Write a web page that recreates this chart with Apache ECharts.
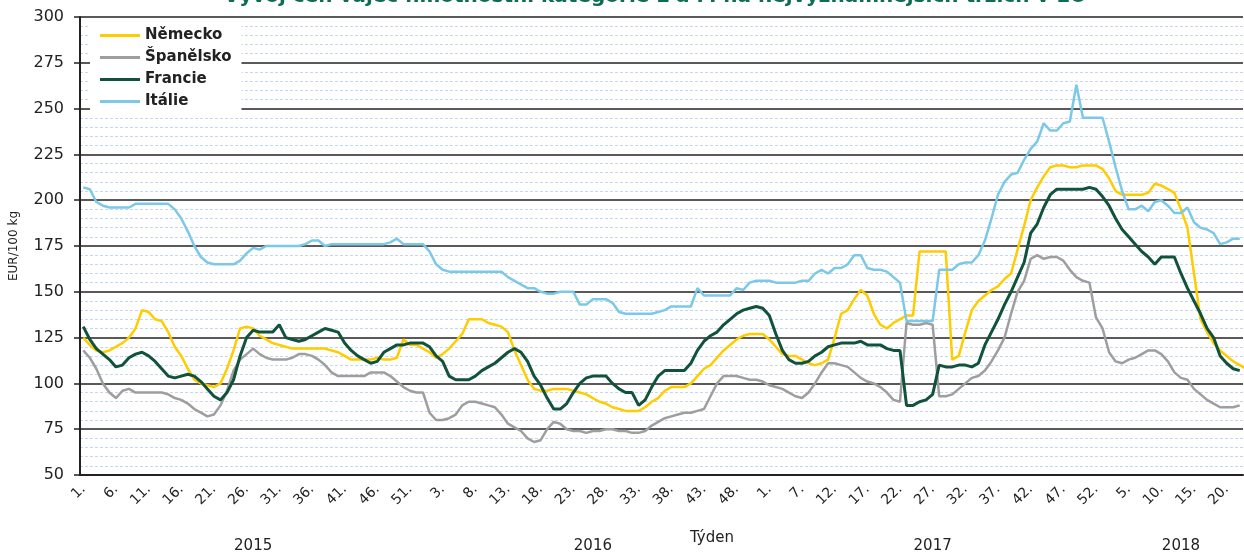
<!DOCTYPE html>
<html><head><meta charset="utf-8">
<script src="https://cdn.jsdelivr.net/npm/echarts@6/dist/echarts.min.js"></script>
<style>html,body{margin:0;padding:0;background:#fff}#c{width:1244px;height:559px}</style>
</head><body><div id="c"></div>
<script>
// week numbers of each year (2017 data skips one week)
const weeks2015 = [1,2,3,4,5,6,7,8,9,10,11,12,13,14,15,16,17,18,19,20,21,22,23,24,25,26,27,28,29,30,31,32,33,34,35,36,37,38,39,40,41,42,43,44,45,46,47,48,49,50,51,52,53];
const weeks2016 = [1,2,3,4,5,6,7,8,9,10,11,12,13,14,15,16,17,18,19,20,21,22,23,24,25,26,27,28,29,30,31,32,33,34,35,36,37,38,39,40,41,42,43,44,45,46,47,48,49,50,51,52];
const weeks2017 = [1,3,4,5,6,7,8,9,10,11,12,13,14,15,16,17,18,19,20,21,22,23,24,25,26,27,28,29,30,31,32,33,34,35,36,37,38,39,40,41,42,43,44,45,46,47,48,49,50,51,52];
const weeks2018 = [1,2,3,4,5,6,7,8,9,10,11,12,13,14,15,16,17,18,19,20,21,22];
const years = ['2015','2016','2017','2018'];
const seriesNames = ['Německo','Španělsko','Francie','Itálie'];
const titleText = 'Vývoj cen vajec hmotnostní kategorie L a M na nejvýznamnějších trzích v EU';

const nemecko = [125,121,118,117,118,120,122,125,130,140,139,135,134,128,120,115,108,102,100,99,98,100,108,118,130,131,130,126,124,122,121,120,119,119,119,119,119,119,118,117,115,113,113,113,113,114,113,113,114,124,121,121,119,
117,114,116,119,123,127,135,135,135,133,132,131,128,118,110,102,97,96,96,97,97,97,96,95,94,92,90,89,87,86,85,85,85,87,90,92,96,98,98,98,100,104,108,110,114,118,121,124,126,127,127,127,
124,120,116,115,115,113,111,110,111,113,125,138,140,146,151,148,138,132,130,133,135,137,137,172,172,172,172,172,113,115,128,140,145,148,151,153,157,160,173,186,200,207,213,218,219,219,218,218,219,219,219,217,212,
205,203,203,203,203,204,209,208,206,204,195,185,160,135,128,122,118,115,112,110,108,107];
const spanelsko = [118,114,108,100,95,92,96,97,95,95,95,95,95,94,92,91,89,86,84,82,83,88,96,107,113,116,119,116,114,113,113,113,114,116,116,115,113,110,106,104,104,104,104,104,106,106,106,104,101,98,96,95,95,
84,80,80,81,83,88,90,90,89,88,87,83,78,76,74,70,68,69,75,79,78,75,74,74,73,74,74,75,75,74,74,73,73,74,77,79,81,82,83,84,84,85,86,93,100,104,104,104,103,102,102,101,
99,98,97,95,93,92,95,100,106,111,111,110,109,106,103,101,100,98,95,91,90,133,132,132,133,132,93,93,94,97,100,103,104,107,112,118,125,138,150,156,168,170,168,169,169,167,162,158,156,155,136,
130,117,112,111,113,114,116,118,118,116,112,106,103,102,97,94,91,89,87,87,87,88];
const francie = [131,124,119,116,113,109,110,114,116,117,115,112,108,104,103,104,105,104,101,97,93,91,95,102,115,125,129,128,128,128,132,125,124,123,124,126,128,130,129,128,122,118,115,113,111,112,117,119,121,121,122,122,122,
120,115,112,104,102,102,102,104,107,109,111,114,117,119,117,112,104,99,92,86,86,89,95,100,103,104,104,104,100,97,95,95,88,91,98,104,107,107,107,107,111,118,123,126,128,132,135,138,140,141,142,141,
137,127,118,113,111,111,112,115,117,120,121,122,122,122,123,121,121,121,119,118,118,88,88,90,91,94,110,109,109,110,110,109,111,121,128,135,143,150,158,166,182,187,196,203,206,206,206,206,206,207,206,
202,197,190,184,180,176,172,169,165,169,169,169,160,152,145,138,130,125,115,111,108,107];
const italie = [207,206,199,197,196,196,196,196,198,198,198,198,198,198,195,190,183,175,169,166,165,165,165,165,167,171,174,173,175,175,175,175,175,175,176,178,178,175,176,176,176,176,176,176,176,176,176,177,179,176,176,176,176,
172,165,162,161,161,161,161,161,161,161,161,161,158,156,154,152,152,150,149,149,150,150,150,143,143,146,146,146,144,139,138,138,138,138,138,139,140,142,142,142,142,152,148,148,148,148,148,152,151,155,156,156,
156,155,155,155,155,156,156,160,162,160,163,163,165,170,170,163,162,162,161,158,155,134,134,134,134,134,162,162,162,165,166,166,170,178,190,203,210,214,215,222,228,232,242,238,238,242,243,263,245,245,245,
245,232,218,205,195,195,197,194,199,200,197,193,193,196,188,185,184,182,176,177,179,179];

const categories = [];
const catWeek = [];
[[years[0],weeks2015],[years[1],weeks2016],[years[2],weeks2017],[years[3],weeks2018]].forEach(function(p){
  p[1].forEach(function(w){ categories.push(p[0] + '-' + w); catWeek.push(w); });
});
// index where each year label is shown (middle of each year block)
const yearLabelIdx = {26: years[0], 78: years[1], 130: years[2], 168: years[3]};

const font = 'DejaVu Sans, Verdana, sans-serif';
const chart = echarts.init(document.getElementById('c'), null, {renderer: 'canvas'});
const colors = ['#FFCC00', '#9E9E9E', '#11523A', '#7CC8E9'];
const dataArr = [nemecko, spanelsko, francie, italie];

chart.setOption({
  animation: false,
  backgroundColor: '#ffffff',
  grid: {left: 80, right: 1, top: 17, bottom: 84, containLabel: false},
  legend: {
    orient: 'vertical', left: 90, top: 21,
    backgroundColor: '#ffffff', padding: [7, 10, 7, 10],
    itemWidth: 40, itemHeight: 3, itemGap: 7, icon: 'rect',
    textStyle: {fontFamily: font, fontSize: 15, fontWeight: 'bold', color: '#222'},
    data: seriesNames
  },
  xAxis: [{
    type: 'category', data: categories, boundaryGap: true,
    axisLine: {show: true, lineStyle: {color: '#222', width: 2}},
    axisTick: {show: false},
    axisLabel: {
      interval: 4, rotate: 45, margin: 12,
      fontFamily: font, fontSize: 14, color: '#222',
      formatter: function(v, i){ return catWeek[i] + '.'; }
    },
    splitLine: {show: false}
  }, {
    type: 'category', data: categories, boundaryGap: true, position: 'bottom', offset: 62,
    axisLine: {show: false}, axisTick: {show: false},
    axisLabel: {
      interval: function(i){ return yearLabelIdx[i] !== undefined; },
      margin: 2, fontFamily: font, fontSize: 15, color: '#222',
      formatter: function(v, i){ return yearLabelIdx[i] || ''; }
    },
    splitLine: {show: false}
  }],
  yAxis: {
    type: 'value', min: 50, max: 300, interval: 25,
    name: 'EUR/100 kg', nameLocation: 'middle', nameGap: 60, nameRotate: 90,
    nameTextStyle: {fontFamily: font, fontSize: 12, color: '#222'},
    axisLine: {show: true, lineStyle: {color: '#222', width: 2}},
    axisTick: {show: true, inside: false, length: 6, lineStyle: {color: '#222', width: 1.5}},
    axisLabel: {fontFamily: font, fontSize: 16, color: '#222', margin: 16},
    splitLine: {show: true, lineStyle: {color: '#222', width: 1.5}},
    minorTick: {show: false, splitNumber: 5},
    minorSplitLine: {show: true, lineStyle: {color: '#C6D6EE', width: 1, type: [3, 2]}}
  },
  graphic: [{
    type: 'text', x: 655, y: -13,
    style: {text: titleText, fontFamily: font, fontSize: 20, fontWeight: 'bold', fill: '#0E6B55', align: 'center', verticalAlign: 'top'}
  }, {
    type: 'text', left: 690, top: 531,
    style: {text: 'Týden', fontFamily: font, fontSize: 15, fill: '#222'}
  }],
  series: seriesNames.map(function(n, k){
    return {
      name: n, type: 'line', data: dataArr[k], xAxisIndex: 0,
      showSymbol: false, symbol: 'none', smooth: false,
      lineStyle: {color: colors[k], width: k === 2 ? 3 : 2.5},
      itemStyle: {color: colors[k]}
    };
  })
});
</script></body></html>
